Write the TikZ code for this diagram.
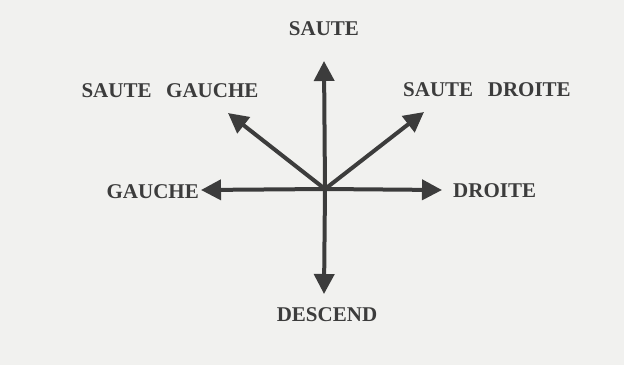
\documentclass[tikz,border=0pt]{standalone}
\usepackage{fontspec}
\setmainfont{Liberation Serif}
\usetikzlibrary{arrows.meta}
\definecolor{PaperGray}{HTML}{F1F1EF}
\definecolor{InkGray}{HTML}{3C3C3C}

\begin{document}
\begin{tikzpicture}[
        x=1pt, y=-1pt,
        lbl/.style={text=InkGray, inner sep=0pt, font=\fontsize{21}{25}\selectfont\bfseries},
        arrow/.style={-{Triangle[length=20pt,width=20pt]}, line width=4pt, draw=InkGray}
      ]
        \fill[PaperGray] (0,0) rectangle (624,365);
        \useasboundingbox (0,0) rectangle (624,365);
        % directions
        \coordinate (c) at (325,189);
        \coordinate (up) at (324,61);
        \coordinate (down) at (324,294);
        \coordinate (left) at (201,190);
        \coordinate (right) at (442,190);
        \coordinate (upleft) at (228,113);
        \coordinate (upright) at (424,112);
        % labels
        \node[lbl] (saute) at (324,29) {SAUTE};
        \node[lbl] (sautegauche) at (170,91) {SAUTE\hspace{0.45em} GAUCHE};
        \node[lbl] (sautedroite) at (487,90) {SAUTE\hspace{0.45em} DROITE};
        \node[lbl, anchor=east] (gauche) at (199,192) {GAUCHE};
        \node[lbl, anchor=west] (droite) at (453,191) {DROITE};
        \node[lbl] (descend) at (327,315) {DESCEND};
        \draw[arrow] (c) -- (up);
        \draw[arrow] (c) -- (down);
        \draw[arrow] (c) -- (left);
        \draw[arrow] (c) -- (right);
        \draw[arrow] (c) -- (upleft);
        \draw[arrow] (c) -- (upright);
      \end{tikzpicture}
\end{document}
